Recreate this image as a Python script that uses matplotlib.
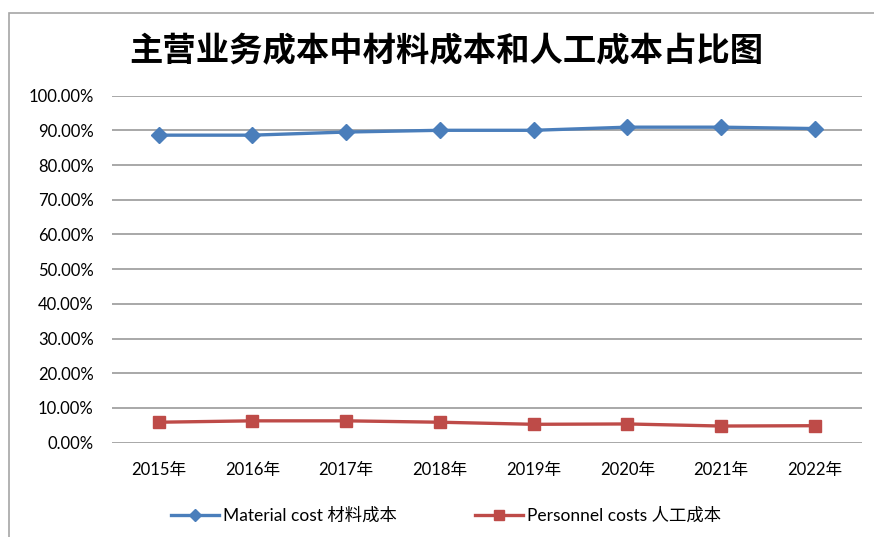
import matplotlib
matplotlib.use('Agg')
import matplotlib.pyplot as plt
from matplotlib.ticker import PercentFormatter
from matplotlib.patches import Rectangle

plt.rcParams['font.family'] = ['Lato', 'Noto Sans CJK SC', 'DejaVu Sans']

years = ['2015年', '2016年', '2017年', '2018年', '2019年', '2020年', '2021年', '2022年']
material = [0.886, 0.886, 0.895, 0.900, 0.900, 0.909, 0.909, 0.905]
personnel = [0.059, 0.063, 0.063, 0.059, 0.053, 0.054, 0.048, 0.049]

fig = plt.figure(figsize=(8.74, 5.37), dpi=100)
ax = fig.add_axes([0.128, 0.1756, 0.858, 0.6464])

# outer chart border
fig.patches.append(Rectangle((0.010, -0.05), 1.2, 1.025, transform=fig.transFigure,
                             fill=False, edgecolor='#a6a6a6', linewidth=1.2))

x = range(len(years))
ax.plot(x, material, color='#4a7ebb', linewidth=2.4, marker='D', markersize=8,
        label='Material cost 材料成本')
ax.plot(x, personnel, color='#be4b48', linewidth=2.4, marker='s', markersize=9,
        label='Personnel costs 人工成本')

ax.set_xlim(-0.5, len(years) - 0.5)
ax.set_ylim(0, 1.0)
ax.set_yticks([i / 10 for i in range(11)])
ax.yaxis.set_major_formatter(PercentFormatter(1.0, decimals=2))
ax.set_xticks(list(x))
ax.set_xticklabels(years)
ax.tick_params(axis='y', length=0, pad=13, labelsize=12)
ax.tick_params(axis='x', length=0, pad=14, labelsize=12)
ax.grid(axis='y', color='#9a9a9a', linewidth=1.2)
ax.set_axisbelow(True)
for s in ax.spines.values():
    s.set_visible(False)

fig.text(0.511, 0.903, '主营业务成本中材料成本和人工成本占比图', ha='center', va='center',
         fontsize=24, fontweight='bold', family=['Noto Sans CJK SC'])

fig.legend(loc='center', bbox_to_anchor=(0.51, 0.04), ncol=2, frameon=False,
           fontsize=12.5, handlelength=2.8, columnspacing=4.5, handletextpad=0.2,
           markerscale=0.8)

fig.savefig('out.png', dpi=100)
